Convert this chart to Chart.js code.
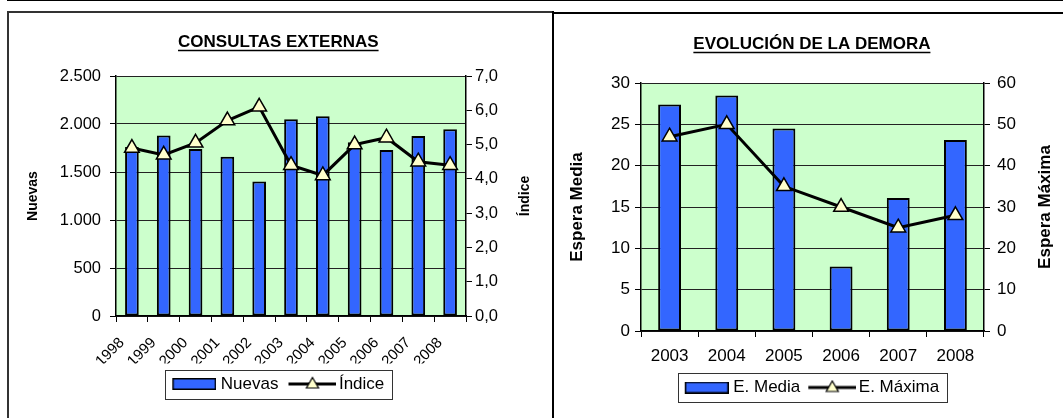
<!DOCTYPE html>
<html><head><meta charset="utf-8">
<script src="https://cdn.jsdelivr.net/npm/chart.js@4.4.1/dist/chart.umd.min.js"></script>
<style>
html,body{margin:0;padding:0;background:#fff;width:1063px;height:418px;overflow:hidden;position:relative;font-family:'Liberation Sans',Arial,sans-serif}
.ln{position:absolute;background:#000}
#w1{position:absolute;left:8px;top:12px;width:544px;height:406px}
#w2{position:absolute;left:554px;top:13px;width:509px;height:405px}
</style></head><body>
<div class="ln" style="left:7px;top:0;width:1056px;height:1px"></div>
<div class="ln" style="left:7px;top:11px;width:546px;height:1.5px;background:#333"></div>
<div class="ln" style="left:7px;top:11px;width:1.5px;height:407px;background:#333"></div>
<div class="ln" style="left:551.5px;top:11px;width:2px;height:407px"></div>
<div class="ln" style="left:553px;top:12px;width:510px;height:1.5px"></div>
<div id="w1"><canvas id="c1" width="544" height="406"></canvas></div>
<div id="w2"><canvas id="c2" width="509" height="405"></canvas></div>
<script>
// ---- data ----
const years1 = ['1998','1999','2000','2001','2002','2003','2004','2005','2006','2007','2008'];
const nuevas = [1760,1880,1740,1660,1400,2050,2080,1810,1730,1875,1945];
const indice = [4.9,4.7,5.05,5.7,6.1,4.4,4.1,5.0,5.2,4.5,4.4];
const nuevasTicks = ['0','500','1.000','1.500','2.000','2.500'];
const indiceTicks = ['0,0','1,0','2,0','3,0','4,0','5,0','6,0','7,0'];

const years2 = ['2003','2004','2005','2006','2007','2008'];
const esperaMedia = [27.4,28.5,24.5,7.8,16.1,23.1];
const esperaMaxima = [47,50,35,30,25,28];
const mediaTicks = ['0','5','10','15','20','25','30'];
const maximaTicks = ['0','10','20','30','40','50','60'];

const FONT = "'Liberation Sans', Arial, sans-serif";
Chart.defaults.font.family = FONT;
Chart.defaults.color = '#000';

function barIcon(){
  const c=document.createElement('canvas'); c.width=48; c.height=12;
  const g=c.getContext('2d');
  g.fillStyle='#3366FF'; g.fillRect(4.75,0.75,42.5,10.5);
  g.strokeStyle='#000'; g.lineWidth=1.5; g.strokeRect(4.75,0.75,42.5,10.5);
  return c;
}
function lineIcon(){
  const c=document.createElement('canvas'); c.width=52; c.height=16;
  const g=c.getContext('2d');
  g.strokeStyle='#000'; g.lineWidth=3;
  g.beginPath(); g.moveTo(4,8); g.lineTo(52,8); g.stroke();
  const cx=28, cy=8.5, r=7;
  g.beginPath();
  g.moveTo(cx, cy-r);
  g.lineTo(cx+r*Math.sin(2*Math.PI/3), cy+r*0.5);
  g.lineTo(cx-r*Math.sin(2*Math.PI/3), cy+r*0.5);
  g.closePath();
  g.fillStyle='#FFFFCC'; g.fill();
  g.lineWidth=1.2; g.stroke();
  return c;
}

const extras = {
  id:'extras',
  beforeDraw(chart){
    const a=chart.chartArea, ctx=chart.ctx;
    ctx.save(); ctx.fillStyle='#CCFFCC';
    ctx.fillRect(a.left,a.top,a.right-a.left,a.bottom-a.top);
    ctx.restore();
  },
  afterDraw(chart){
    const ctx=chart.ctx, o=chart.options.plugins.extras||{};
    const t=chart.titleBlock;
    if(t){
      const to=chart.options.plugins.title;
      ctx.save();
      ctx.font='bold '+to.font.size+'px '+FONT;
      const w=ctx.measureText(to.text).width;
      const cx=(t.left+t.right)/2;
      const y=t.top+to.padding.top+to.font.size*1.2/2+o.ulOffset;
      ctx.strokeStyle='#000'; ctx.lineWidth=1.5;
      ctx.beginPath(); ctx.moveTo(cx-w/2,y); ctx.lineTo(cx+w/2,y); ctx.stroke();
      ctx.restore();
    }
    if(o.rightTitle){
      const a=chart.chartArea;
      ctx.save();
      ctx.translate(o.rightTitle.x,(a.top+a.bottom)/2);
      ctx.rotate(-Math.PI/2);
      ctx.font='bold '+o.rightTitle.size+'px '+FONT;
      ctx.fillStyle='#000'; ctx.textAlign='center'; ctx.textBaseline='middle';
      ctx.fillText(o.rightTitle.text,0,0);
      ctx.restore();
    }
    const L=chart.legend;
    if(L && L.legendHitBoxes && L.legendHitBoxes.length){
      let l=1e9,r=-1e9,tp=1e9,b=-1e9;
      L.legendHitBoxes.forEach(h=>{l=Math.min(l,h.left);r=Math.max(r,h.left+h.width);tp=Math.min(tp,h.top);b=Math.max(b,h.top+h.height);});
      ctx.save(); ctx.strokeStyle='#333'; ctx.lineWidth=1;
      ctx.strokeRect(Math.round(l-7)+0.5,Math.round(tp-6)+0.5,Math.round(r-l+15),Math.round(b-tp+12));
      ctx.restore();
    }
  }
};

function legendCfg(names, fontSize, pad){
  return {
    display:true, position:'bottom',
    labels:{
      usePointStyle:true, pointStyleWidth:40, padding:pad,
      font:{size:fontSize}, color:'#000',
      generateLabels(){
        return [
          {text:names[0], pointStyle:barIcon(), fillStyle:'#3366FF', strokeStyle:'#000', lineWidth:0, hidden:false, datasetIndex:0},
          {text:names[1], pointStyle:lineIcon(), fillStyle:'#FFFFCC', strokeStyle:'#000', lineWidth:0, hidden:false, datasetIndex:1}
        ];
      }
    }
  };
}

const barStyle = {backgroundColor:'#3366FF', borderColor:'#000', borderWidth:2, borderSkipped:false, categoryPercentage:1, order:1};
const lineStyle = {borderColor:'#000', borderWidth:3, tension:0, pointStyle:'triangle', pointRadius:8.5,
  pointBackgroundColor:'#FFFFCC', pointBorderColor:'#000', pointBorderWidth:1.5, order:0};

// ---- chart 1 ----
new Chart(document.getElementById('c1'),{
  type:'bar',
  data:{
    labels:years1,
    datasets:[
      Object.assign({type:'bar', label:'Nuevas', data:nuevas, yAxisID:'y', barPercentage:0.43}, barStyle),
      Object.assign({type:'line', label:'Índice', data:indice, yAxisID:'y1'}, lineStyle)
    ]
  },
  options:{
    responsive:false, animation:false, events:[],
    layout:{padding:{left:12.6,right:16,top:0,bottom:15.5}},
    plugins:{
      title:{display:true,text:'CONSULTAS EXTERNAS',font:{size:17,weight:'bold'},padding:{top:20.3,bottom:23.3},color:'#000'},
      legend:legendCfg(['Nuevas','Índice'],17,12),
      tooltip:{enabled:false},
      extras:{ulOffset:8, rightTitle:{text:'Índice',size:14,x:517}}
    },
    scales:{
      x:{
        grid:{display:true,drawOnChartArea:false,drawTicks:true,tickLength:6,color:'#000',offset:true},
        border:{color:'#000',width:1.5},
        ticks:{font:{size:15},minRotation:45,maxRotation:45,labelOffset:-10,padding:12,autoSkip:false,color:'#000'},
        afterFit(s){s.height=47.5;}
      },
      y:{
        position:'left',min:0,max:2500,
        ticks:{stepSize:500,callback:(v,i)=>nuevasTicks[i],font:{size:16.5},padding:9,color:'#000'},
        grid:{color:'#222',tickColor:'#000',tickLength:6,lineWidth:1},
        border:{color:'#000',width:1.5},
        title:{display:true,text:'Nuevas',font:{size:14,weight:'bold'},padding:{top:4,bottom:4},color:'#000'},
        afterFit(s){s.width=95.4;}
      },
      y1:{
        position:'right',min:0,max:7,
        ticks:{stepSize:1,callback:(v,i)=>indiceTicks[i],font:{size:16.5},padding:3,color:'#000'},
        grid:{drawOnChartArea:false,tickColor:'#000',tickLength:6},
        border:{color:'#000',width:1.5},
        afterFit(s){s.width=70;}
      }
    }
  },
  plugins:[extras]
});

// ---- chart 2 ----
new Chart(document.getElementById('c2'),{
  type:'bar',
  data:{
    labels:years2,
    datasets:[
      Object.assign({type:'bar', label:'E. Media', data:esperaMedia, yAxisID:'y', barPercentage:0.4}, barStyle),
      Object.assign({type:'line', label:'E. Máxima', data:esperaMaxima, yAxisID:'y1'}, lineStyle)
    ]
  },
  options:{
    responsive:false, animation:false, events:[],
    layout:{padding:{left:8.8,right:2,top:0,bottom:12}},
    plugins:{
      title:{display:true,text:'EVOLUCIÓN DE LA DEMORA',font:{size:17,weight:'bold'},padding:{top:21.3,bottom:28.3},color:'#000'},
      legend:legendCfg(['E. Media','E. Máxima'],17,10),
      tooltip:{enabled:false},
      extras:{ulOffset:8, rightTitle:{text:'Espera Máxima',size:17,x:491.5}}
    },
    scales:{
      x:{
        grid:{display:true,drawOnChartArea:false,drawTicks:true,tickLength:6,color:'#000',offset:true},
        border:{color:'#000',width:1.5},
        ticks:{font:{size:17},maxRotation:0,padding:9,autoSkip:false,color:'#000'},
        afterFit(s){s.height=38;}
      },
      y:{
        position:'left',min:0,max:30,
        ticks:{stepSize:5,callback:(v,i)=>mediaTicks[i],font:{size:17},padding:5,color:'#000'},
        grid:{color:'#222',tickColor:'#000',tickLength:6,lineWidth:1},
        border:{color:'#000',width:1.5},
        title:{display:true,text:'Espera Media',font:{size:17,weight:'bold'},padding:{top:4,bottom:4},color:'#000'},
        afterFit(s){s.width=78.2;}
      },
      y1:{
        position:'right',min:0,max:60,
        ticks:{stepSize:10,callback:(v,i)=>maximaTicks[i],font:{size:17},padding:7,color:'#000'},
        grid:{drawOnChartArea:false,tickColor:'#000',tickLength:6},
        border:{color:'#000',width:1.5},
        afterFit(s){s.width=77;}
      }
    }
  },
  plugins:[extras]
});
</script>
</body></html>
